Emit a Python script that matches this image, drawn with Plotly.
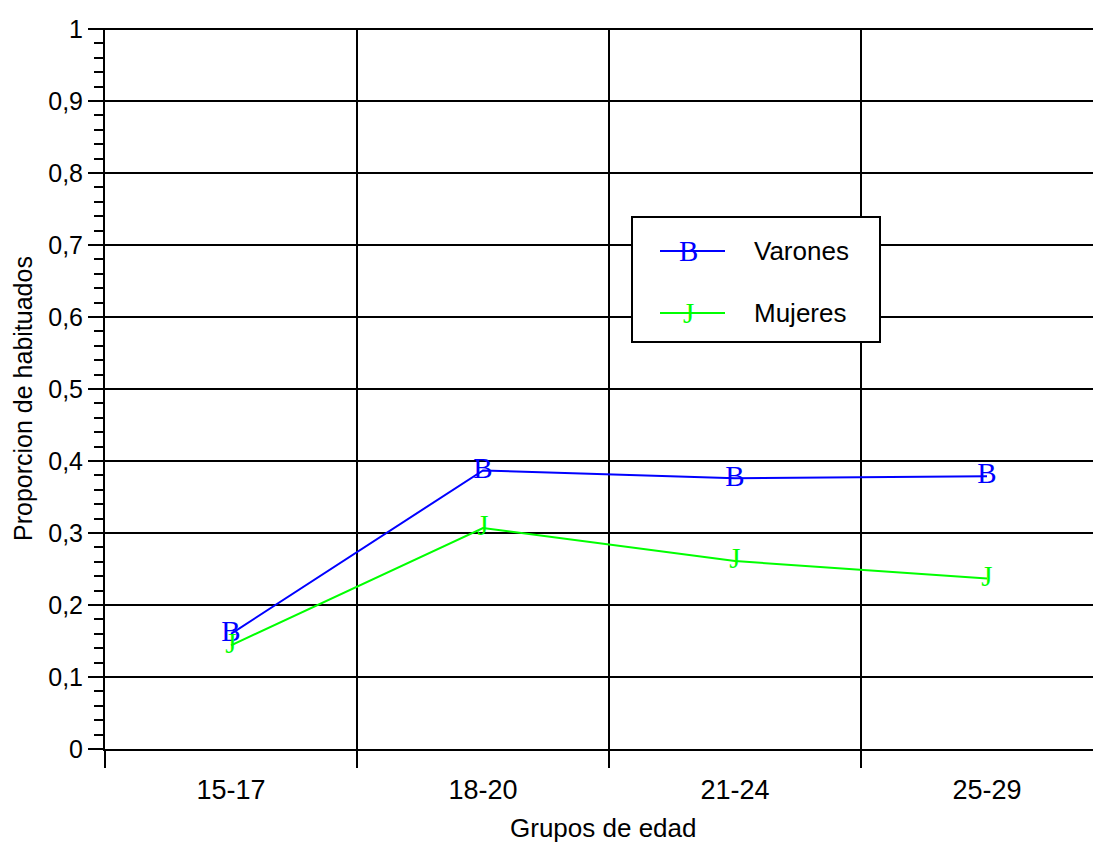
import plotly.graph_objects as go

categories = ["15-17", "18-20", "21-24", "25-29"]
varones = [0.160, 0.387, 0.376, 0.379]
mujeres = [0.144, 0.307, 0.261, 0.237]
series_names = ["Varones", "Mujeres"]
series_markers = ["B", "J"]
series_colors = ["#0000FF", "#00FF00"]
y_tickvals = [0, 0.1, 0.2, 0.3, 0.4, 0.5, 0.6, 0.7, 0.8, 0.9, 1]

# page body has an 8px margin; figure placed at (8, 8) on screen
OFF = 8
SCR_W, SCR_H = 1101, 842
PL, PT, PR, PB = 105, 28, 1101, 749  # plot area in screen pixels
W, H = SCR_W - OFF, SCR_H - OFF
L, T = PL - OFF, PT - OFF
R = SCR_W - PR
B = SCR_H - PB
pw, ph = PR - PL, PB - PT


def px_x(p):
    return (p - PL) / pw


def px_y(p):
    return (PB - p) / ph


sans = "Liberation Sans, Arial, sans-serif"
serif = "Liberation Serif, Times New Roman, serif"

fig = go.Figure()
for name, vals, mk, col in zip(series_names, [varones, mujeres], series_markers, series_colors):
    fig.add_trace(go.Scatter(
        x=categories, y=vals, mode="lines+text", name=name,
        text=[mk] * len(vals), textposition="middle center",
        textfont=dict(family=serif, size=29, color=col),
        line=dict(color=col, width=2), showlegend=False, cliponaxis=False,
    ))

band = 252
xr_max = -0.5 + pw / band

fig.update_layout(
    width=W, height=H, autosize=False,
    margin=dict(l=L, r=R, t=T, b=B, pad=0),
    paper_bgcolor="white", plot_bgcolor="white",
    separators=", ",
    font=dict(family=sans, size=26, color="black"),
    xaxis=dict(
        type="category", range=[-0.5, xr_max], tickson="boundaries",
        ticks="outside", ticklen=17, tickwidth=2, tickcolor="black",
        showgrid=True, gridcolor="black", gridwidth=2,
        showline=True, linecolor="black", linewidth=2,
        tickfont=dict(family=sans, size=27, color="black"),
        ticklabelstandoff=16,
        zeroline=False,
    ),
    yaxis=dict(
        range=[0, 1.0015], tickvals=y_tickvals,
        ticks="outside", ticklen=15, tickwidth=2, tickcolor="black",
        showgrid=True, gridcolor="black", gridwidth=2,
        showline=True, linecolor="black", linewidth=2,
        zeroline=False,
        tickfont=dict(family=sans, size=25, color="black"),
        minor=dict(dtick=0.02, ticks="outside", ticklen=9, tickwidth=2,
                   tickcolor="black", showgrid=False),
    ),
)

fig.add_annotation(text="Grupos de edad", xref="paper", yref="paper",
                   x=px_x(603), y=px_y(828), showarrow=False,
                   font=dict(family=sans, size=26, color="black"),
                   xanchor="center", yanchor="middle")
fig.add_annotation(text="Proporcion de habituados", xref="paper", yref="paper",
                   x=px_x(23), y=px_y(399), showarrow=False, textangle=-90,
                   borderpad=0,
                   font=dict(family=sans, size=25, color="black"),
                   xanchor="center", yanchor="middle")

fig.add_shape(type="rect", xref="paper", yref="paper",
              x0=px_x(632), x1=px_x(880), y0=px_y(342), y1=px_y(217),
              line=dict(color="black", width=2), fillcolor="white", layer="above")
legend_rows = [251, 313]
for name, mk, col, ry in zip(series_names, series_markers, series_colors, legend_rows):
    fig.add_shape(type="line", xref="paper", yref="paper",
                  x0=px_x(660), x1=px_x(725), y0=px_y(ry), y1=px_y(ry),
                  line=dict(color=col, width=2), layer="above")
    fig.add_annotation(text=mk, xref="paper", yref="paper", x=px_x(688), y=px_y(ry),
                       showarrow=False, xanchor="center", yanchor="middle",
                       font=dict(family=serif, size=29, color=col))
    fig.add_annotation(text=name, xref="paper", yref="paper", x=px_x(752), y=px_y(ry),
                       showarrow=False, xanchor="left", yanchor="middle",
                       font=dict(family=sans, size=26, color="black"))

fig.write_html("out.html")
